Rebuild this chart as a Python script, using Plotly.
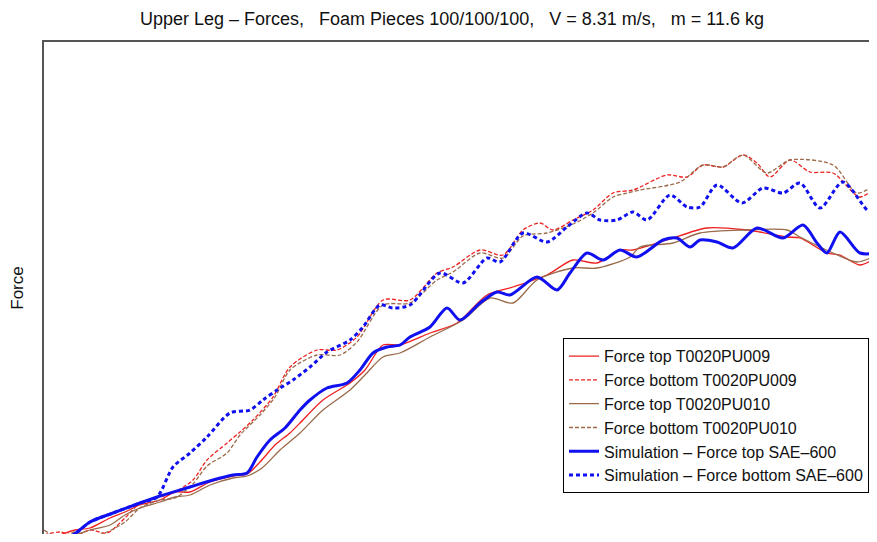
import plotly.graph_objects as go

# ---- data (time in arbitrary units, force in arbitrary units) ----
t_top_009 = [0, 16, 31, 46, 66, 81, 96, 116, 131, 146, 166, 189, 203, 216, 231, 246, 256, 279, 306, 321, 339, 356, 386, 413, 443, 469, 503, 529, 553, 576, 589, 623, 663, 703, 716, 743, 756, 783, 796, 816, 833]
f_top_009 = [2, 7, 12, 14, 24, 30, 37, 42, 50, 50, 60, 66, 68, 80, 97, 109, 119, 142, 159, 172, 197, 197, 209, 219, 247, 255, 267, 282, 279, 292, 292, 302, 314, 312, 310, 305, 304, 289, 287, 277, 285]

t_bot_009 = [0, 16, 31, 46, 63, 81, 96, 116, 129, 149, 163, 183, 196, 209, 229, 246, 273, 293, 313, 339, 366, 393, 409, 436, 459, 479, 496, 509, 529, 549, 569, 589, 623, 643, 659, 679, 699, 713, 726, 746, 766, 789, 816, 833]
f_bot_009 = [7, 10, 6, 12, 9, 24, 39, 45, 49, 62, 82, 99, 110, 122, 145, 175, 192, 192, 205, 242, 242, 269, 275, 292, 287, 312, 319, 312, 322, 332, 349, 352, 367, 365, 377, 375, 387, 379, 365, 382, 370, 369, 345, 357]

t_top_010 = [0, 16, 31, 46, 66, 81, 96, 116, 131, 146, 166, 189, 203, 218, 236, 256, 279, 306, 321, 339, 356, 386, 419, 446, 469, 493, 529, 553, 586, 596, 629, 656, 703, 743, 756, 789, 813, 833]
f_top_010 = [0, 5, 7, 12, 17, 27, 34, 40, 45, 47, 57, 64, 66, 74, 92, 109, 132, 152, 167, 185, 189, 205, 222, 244, 239, 262, 274, 274, 285, 295, 299, 309, 312, 312, 305, 289, 280, 287]

t_bot_010 = [0, 16, 31, 46, 63, 81, 96, 116, 131, 149, 163, 183, 196, 216, 231, 246, 273, 296, 313, 339, 366, 393, 409, 436, 459, 479, 503, 529, 549, 569, 583, 596, 636, 659, 679, 699, 723, 746, 789, 813, 833]
f_bot_010 = [12, 4, 10, 5, 10, 20, 34, 42, 44, 58, 76, 89, 107, 127, 145, 172, 187, 187, 200, 237, 239, 262, 270, 289, 284, 306, 309, 318, 329, 345, 349, 352, 360, 377, 375, 387, 369, 382, 377, 349, 359]

t_sim_top = [0, 16, 29, 46, 69, 96, 113, 146, 169, 189, 203, 213, 226, 241, 256, 266, 283, 303, 316, 329, 343, 356, 366, 386, 403, 416, 436, 453, 466, 493, 513, 526, 543, 559, 576, 593, 619, 633, 646, 656, 673, 689, 713, 739, 759, 773, 783, 796, 816, 833]
f_sim_top = [0, 3, 7, 20, 29, 39, 45, 55, 62, 67, 69, 85, 102, 114, 132, 142, 154, 159, 172, 189, 195, 197, 205, 215, 234, 222, 239, 250, 247, 265, 252, 269, 289, 282, 292, 285, 302, 304, 295, 302, 300, 294, 314, 304, 317, 299, 289, 310, 289, 289]

t_sim_bot = [0, 16, 29, 46, 69, 96, 113, 129, 146, 163, 186, 206, 219, 233, 249, 266, 283, 306, 319, 336, 349, 366, 396, 419, 443, 456, 479, 503, 523, 543, 556, 573, 589, 603, 626, 643, 656, 673, 698, 719, 739, 756, 776, 799, 826, 833]
f_sim_bot = [0, 3, 7, 20, 29, 39, 45, 75, 89, 105, 129, 132, 142, 152, 162, 175, 190, 202, 215, 237, 234, 237, 269, 259, 284, 280, 309, 300, 315, 329, 322, 322, 330, 322, 347, 335, 335, 357, 339, 354, 349, 359, 334, 360, 330, 339]

series = [
    ("Force top T0020PU009", t_top_009, f_top_009, "#ee2020", 1.3, "solid"),
    ("Force bottom T0020PU009", t_bot_009, f_bot_009, "#ee2020", 1.3, "4px,2px"),
    ("Force top T0020PU010", t_top_010, f_top_010, "#9a6a4a", 1.3, "solid"),
    ("Force bottom T0020PU010", t_bot_010, f_bot_010, "#9a6a4a", 1.3, "4px,2px"),
    ("Simulation \u2013 Force top SAE\u2013600", t_sim_top, f_sim_top, "#1010f0", 3, "solid"),
    ("Simulation \u2013 Force bottom SAE\u2013600", t_sim_bot, f_sim_bot, "#1010f0", 3, "4px,3px"),
]

fig = go.Figure()
for name, t, f, color, w, dash in series:
    fig.add_trace(go.Scatter(
        x=t, y=f, mode="lines", name=name,
        line=dict(color=color, width=w, dash=dash, shape="spline", smoothing=0.8),
    ))

fig.update_layout(
    width=861, height=526,
    margin=dict(l=36, r=0, t=34, b=0),
    paper_bgcolor="white", plot_bgcolor="white",
    font=dict(family="Liberation Sans, Arial, sans-serif", color="#111"),
    title=dict(
        text="Upper Leg \u2013 Forces,\u00a0\u00a0 Foam Pieces 100/100/100,\u00a0\u00a0 V = 8.31 m/s,\u00a0\u00a0 m = 11.6 kg",
        x=0.5157, xanchor="center", y=0.979, yanchor="middle",
        font=dict(size=18, color="#111"),
    ),
    showlegend=True,
    legend=dict(
        x=1.0, xanchor="right", y=0.398, yanchor="top",
        bgcolor="white", bordercolor="black", borderwidth=1,
        font=dict(size=16, color="#111"),
        tracegroupgap=0,
    ),
    xaxis=dict(
        range=[0, 825], side="top", showline=True, linecolor="#555", linewidth=1.5,
        showticklabels=False, ticks="", showgrid=False, zeroline=False,
    ),
    yaxis=dict(
        range=[8, 500], showline=True, linecolor="#555", linewidth=1.5,
        showticklabels=False, ticks="", showgrid=False, zeroline=False,
        title=dict(text="Force", standoff=14, font=dict(size=17, color="#111")),
        automargin=False,
    ),
)

fig.write_html("out.html")
